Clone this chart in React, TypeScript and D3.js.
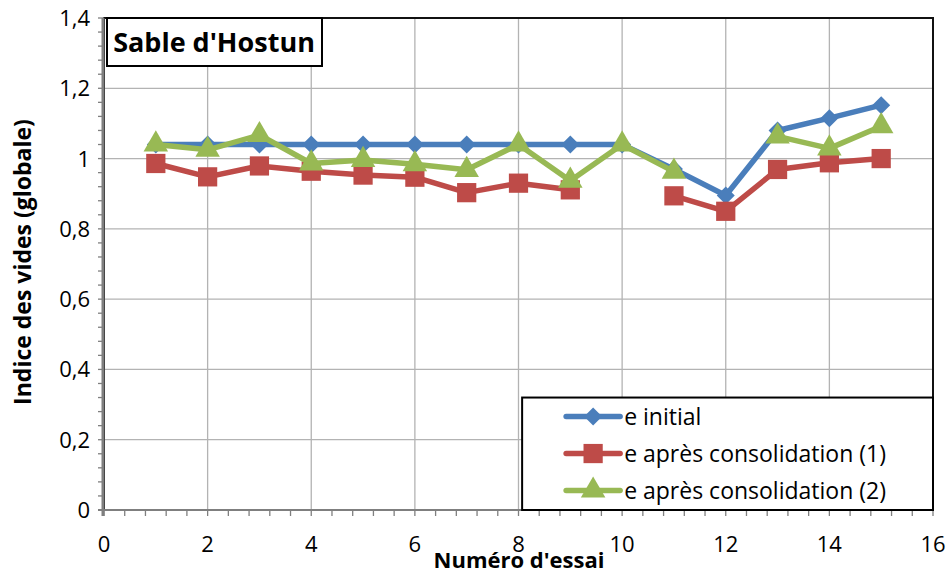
import { useEffect, useRef } from "react";
import * as d3 from "d3";

const essais = [1, 2, 3, 4, 5, 6, 7, 8, 9, 10, 11, 12, 13, 14, 15];
const eInitial = [1.04, 1.04, 1.04, 1.04, 1.04, 1.04, 1.04, 1.04, 1.04, 1.04, 0.97, 0.895, 1.08, 1.115, 1.152];
const eConsol1 = [0.986, 0.948, 0.979, 0.964, 0.953, 0.947, 0.903, 0.93, 0.911, null, 0.894, 0.85, 0.969, 0.988, 1.0];
const eConsol2 = [1.04, 1.025, 1.067, 0.986, 0.996, 0.984, 0.968, 1.04, 0.937, 1.04, 0.963, null, 1.063, 1.029, 1.092];

const seriesNames = ["e initial", "e après consolidation (1)", "e après consolidation (2)"];
const seriesColors = ["#4a7ebb", "#be4b48", "#98b954"];
const xTicks = [0, 2, 4, 6, 8, 10, 12, 14, 16];
const yTicks = [0, 0.2, 0.4, 0.6, 0.8, 1, 1.2, 1.4];

const FONT = "'Open Sans', sans-serif";

export default function App() {
	const ref = useRef<SVGSVGElement>(null);

	useEffect(() => {
		const svg = d3.select(ref.current);
		svg.selectAll("*").remove();

		const W = 947, H = 573;
		const margin = { top: 18, right: 14, bottom: 63, left: 104 };
		const width = W - margin.left - margin.right;
		const height = H - margin.top - margin.bottom;

		const g = svg.append("g").attr("transform", `translate(${margin.left},${margin.top})`);

		const x = d3.scaleLinear().domain([0, 16]).range([0, width]);
		const y = d3.scaleLinear().domain([0, 1.4]).range([height, 0]);

		// grid
		g.append("g").selectAll("line").data(xTicks.slice(1, -1)).join("line")
			.attr("x1", d => x(d)).attr("x2", d => x(d))
			.attr("y1", 0).attr("y2", height)
			.attr("stroke", "#b3b3b3").attr("stroke-width", 1.3);
		g.append("g").selectAll("line").data(yTicks.slice(1, -1)).join("line")
			.attr("y1", d => y(d)).attr("y2", d => y(d))
			.attr("x1", 0).attr("x2", width)
			.attr("stroke", "#b3b3b3").attr("stroke-width", 1.3);

		// frame
		g.append("rect").attr("width", width).attr("height", height)
			.attr("fill", "none").attr("stroke", "#111").attr("stroke-width", 2);

		// axes
		const fmt = (d: d3.NumberValue) => String(d.valueOf()).replace(".", ",");
		const xMinor = d3.range(0, 16.001, 0.4);
		const yMinor = d3.range(0, 1.4001, 0.04);

		g.append("g").selectAll("line").data(xMinor).join("line")
			.attr("x1", d => x(d)).attr("x2", d => x(d))
			.attr("y1", height).attr("y2", height + 6)
			.attr("stroke", "#7f7f7f").attr("stroke-width", 1.3);
		g.append("g").selectAll("line").data(yMinor).join("line")
			.attr("y1", d => y(d)).attr("y2", d => y(d))
			.attr("x1", -6).attr("x2", 0)
			.attr("stroke", "#7f7f7f").attr("stroke-width", 1.3);

		g.append("line").attr("x1", -1).attr("x2", -1).attr("y1", 0).attr("y2", height + 6)
			.attr("stroke", "#7f7f7f").attr("stroke-width", 3);
		g.append("line").attr("x1", -6).attr("x2", width).attr("y1", height).attr("y2", height)
			.attr("stroke", "#7f7f7f").attr("stroke-width", 2);

		g.append("g").selectAll("text").data(xTicks).join("text")
			.attr("x", d => x(d)).attr("y", height + 42)
			.attr("text-anchor", "middle")
			.attr("font-family", FONT).attr("font-size", 22)
			.text(d => fmt(d));
		g.append("g").selectAll("text").data(yTicks).join("text")
			.attr("x", -14).attr("y", d => y(d) + 8)
			.attr("text-anchor", "end")
			.attr("font-family", FONT).attr("font-size", 22)
			.text(d => fmt(d));

		// axis titles
		svg.append("text")
			.attr("x", 519).attr("y", 568)
			.attr("text-anchor", "middle")
			.attr("font-family", FONT).attr("font-weight", "bold").attr("font-size", 22)
			.text("Numéro d'essai");
		svg.append("text")
			.attr("transform", `translate(31,${262}) rotate(-90)`)
			.attr("text-anchor", "middle")
			.attr("font-family", FONT).attr("font-weight", "bold").attr("font-size", 23)
			.text("Indice des vides (globale)");

		// series
		const allSeries = [eInitial, eConsol1, eConsol2];
		const line = d3.line<[number, number | null]>()
			.defined(d => d[1] != null)
			.x(d => x(d[0]))
			.y(d => y(d[1] as number));

		const shapes = [d3.symbolDiamond, d3.symbolSquare, d3.symbolTriangle];
		const sizes = [150, 370, 260];

		const markerPath = (i: number) => {
			if (i === 0) {
				// diamond (Excel style)
				return "M0,-9L9,0L0,9L-9,0Z";
			}
			return d3.symbol().type(shapes[i]).size(sizes[i])()!;
		};

		allSeries.forEach((vals, i) => {
			const pts = essais.map((e, k) => [e, vals[k]] as [number, number | null]);
			g.append("path").datum(pts)
				.attr("d", line)
				.attr("fill", "none")
				.attr("stroke", seriesColors[i])
				.attr("stroke-width", 5.5)
				.attr("stroke-linejoin", "round");
			g.append("g").selectAll("path").data(pts.filter(p => p[1] != null)).join("path")
				.attr("transform", d => `translate(${x(d[0])},${y(d[1] as number)})`)
				.attr("d", markerPath(i))
				.attr("fill", seriesColors[i]);
		});

		// title box
		const tb = g.append("g").attr("transform", "translate(3,0)");
		tb.append("rect").attr("width", 215).attr("height", 48)
			.attr("fill", "#fff").attr("stroke", "#000").attr("stroke-width", 2);
		tb.append("text").attr("x", 107).attr("y", 34)
			.attr("text-anchor", "middle")
			.attr("font-family", FONT).attr("font-weight", "bold").attr("font-size", 27)
			.text("Sable d'Hostun");

		// legend
		const lg = g.append("g").attr("transform", `translate(${x(8.07)},${y(0.32)})`);
		lg.append("rect").attr("width", width - x(8.07)).attr("height", height - y(0.32))
			.attr("fill", "#fff").attr("stroke", "#000").attr("stroke-width", 2);
		seriesNames.forEach((name, i) => {
			const row = lg.append("g").attr("transform", `translate(0,${19 + i * 37})`);
			row.append("line").attr("x1", 44).attr("x2", 98)
				.attr("stroke", seriesColors[i]).attr("stroke-width", 5.5).attr("stroke-linecap", "round");
			row.append("path").attr("transform", "translate(71,0)")
				.attr("d", markerPath(i)).attr("fill", seriesColors[i]);
			row.append("text").attr("x", 102).attr("y", 8)
				.attr("font-family", FONT).attr("font-size", 23)
				.text(name);
		});
	}, []);

	return (
		<svg ref={ref} width={947} height={573}
			style={{ position: "absolute", left: 0, top: 0, background: "#fff" }} />
	);
}
